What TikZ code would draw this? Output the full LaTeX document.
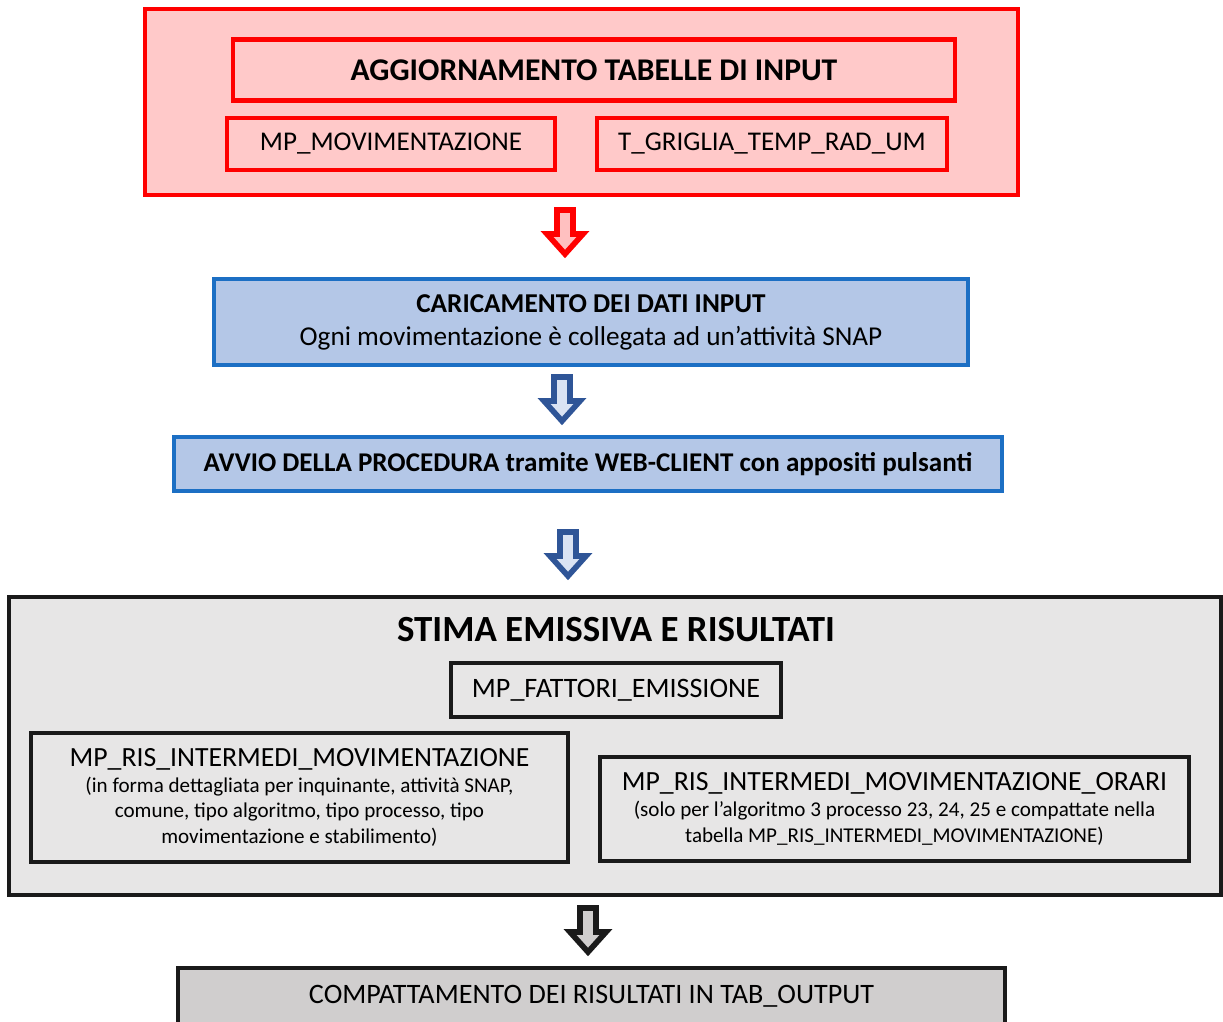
\documentclass[tikz,border=0pt]{standalone}
\usepackage{fontspec}
\setmainfont{Carlito}
\definecolor{redline}{HTML}{FF0000}
\definecolor{redfill}{HTML}{FFC9C9}
\definecolor{redin}{HTML}{FFC0C0}
\definecolor{blueline}{HTML}{1C6FC4}
\definecolor{bluefill}{HTML}{B4C7E7}
\definecolor{bluearr}{HTML}{2F5597}
\definecolor{bluein}{HTML}{DAE3F3}
\definecolor{greyline}{HTML}{1A1A1A}
\definecolor{greyfill}{HTML}{E7E6E6}
\definecolor{greyin}{HTML}{D0CECE}

\begin{document}
\begin{tikzpicture}[x=0.02cm,y=-0.02cm,
  redbox/.style={draw=redline,line width=2.6pt,fill=redfill,inner sep=0pt},
  bluebox/.style={draw=blueline,line width=2.3pt,fill=bluefill,inner sep=0pt,align=center},
  greybox/.style={draw=greyline,line width=2.3pt,fill=greyfill,inner sep=0pt,align=center},
  blkarrow/.pic={\filldraw[pic actions,line width=3.2pt,line join=miter] (-8,3) -- (-8,27) -- (-18,27) -- (0,47) -- (18,27) -- (8,27) -- (8,3) -- cycle;}]

\useasboundingbox (0,0) rectangle (1223,1021);

\node[redbox,minimum width=17.46cm,minimum height=3.72cm] (input) at (581.5,102) {};
\node[redbox,minimum width=14.44cm,minimum height=1.22cm,font=\bfseries\fontsize{18}{21}\selectfont] (aggiorn) at (594,70) {AGGIORNAMENTO TABELLE DI INPUT};
\node[redbox,minimum width=6.56cm,minimum height=1.04cm,font=\fontsize{15.4}{18}\selectfont] (movim) at (391,144) {MP\_MOVIMENTAZIONE};
\node[redbox,minimum width=7cm,minimum height=1.04cm,font=\fontsize{15.4}{18}\selectfont] (griglia) at (772,144) {T\_GRIGLIA\_TEMP\_RAD\_UM};

\pic[draw=redline,fill=redin] at (565,207) {blkarrow};

\node[bluebox,minimum width=15.1cm,minimum height=1.72cm,font=\fontsize{15.5}{18.7}\selectfont] (carico) at (591,322) {\textbf{CARICAMENTO DEI DATI INPUT}\\Ogni movimentazione è collegata ad un’attività SNAP};

\pic[draw=bluearr,fill=bluein] at (562,374) {blkarrow};

\node[bluebox,minimum width=16.56cm,minimum height=1.08cm,font=\bfseries\fontsize{15.4}{18}\selectfont] (avvio) at (588,464) {AVVIO DELLA PROCEDURA tramite WEB-CLIENT con appositi pulsanti};

\pic[draw=bluearr,fill=bluein] at (568,529) {blkarrow};

\node[greybox,minimum width=24.24cm,minimum height=5.96cm] (stima) at (615,746) {};
\node[font=\bfseries\fontsize{21}{24}\selectfont] (titolo) at (616,630) {STIMA EMISSIVA E RISULTATI};
\node[greybox,minimum width=6.6cm,minimum height=1.08cm,font=\fontsize{16}{19}\selectfont] (fattori) at (616,690) {MP\_FATTORI\_EMISSIONE};
\node[greybox,minimum width=10.74cm,minimum height=2.58cm,font=\fontsize{12}{14.7}\selectfont] (risint) at (299.5,797.5) {{\fontsize{15.8}{19}\selectfont MP\_RIS\_INTERMEDI\_MOVIMENTAZIONE}\\(in forma dettagliata per inquinante, attività SNAP,\\comune, tipo algoritmo, tipo processo, tipo\\movimentazione e stabilimento)};
\node[greybox,minimum width=11.78cm,minimum height=2.08cm,font=\fontsize{12}{14.7}\selectfont] (orari) at (894.5,809) {{\fontsize{15.8}{19}\selectfont MP\_RIS\_INTERMEDI\_MOVIMENTAZIONE\_ORARI}\\(solo per l’algoritmo 3 processo 23, 24, 25 e compattate nella\\tabella MP\_RIS\_INTERMEDI\_MOVIMENTAZIONE)};

\pic[draw=greyline,fill=greyin] at (588,905) {blkarrow};

\node[greybox,fill=greyin,minimum width=16.54cm,minimum height=1.14cm,font=\fontsize{16}{19}\selectfont] (compatt) at (591.5,996.5) {COMPATTAMENTO DEI RISULTATI IN TAB\_OUTPUT};

\end{tikzpicture}
\end{document}
